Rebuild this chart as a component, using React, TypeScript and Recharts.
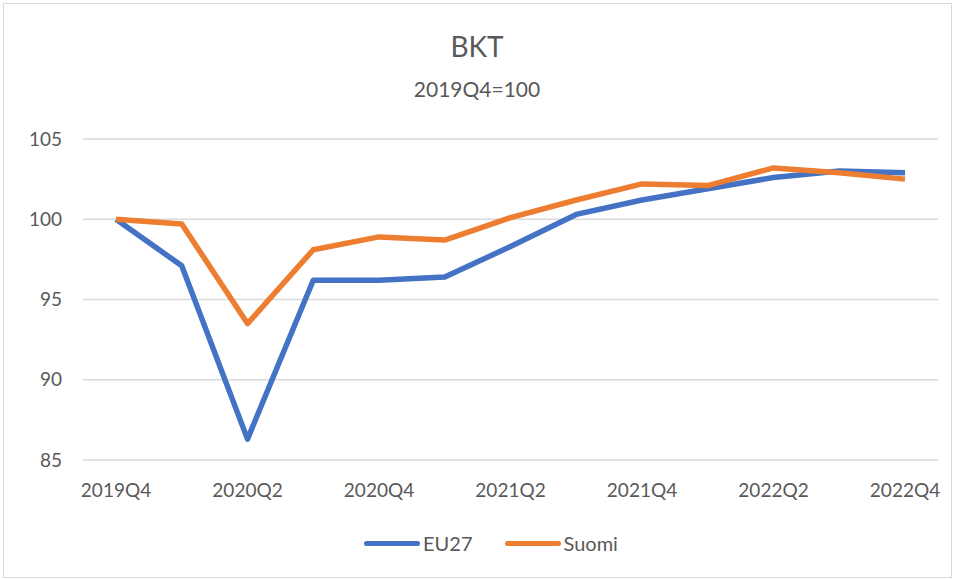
import React from 'react';
import { LineChart, Line, XAxis, YAxis, CartesianGrid } from 'recharts';

const quarters = ['2019Q4', '2020Q1', '2020Q2', '2020Q3', '2020Q4', '2021Q1', '2021Q2', '2021Q3', '2021Q4', '2022Q1', '2022Q2', '2022Q3', '2022Q4'];
const eu27 = [100, 97.1, 86.3, 96.2, 96.2, 96.4, 98.3, 100.3, 101.2, 101.9, 102.6, 103.0, 102.9];
const suomi = [100, 99.7, 93.5, 98.1, 98.9, 98.7, 100.1, 101.2, 102.2, 102.1, 103.2, 102.9, 102.5];
const yTicks = [85, 90, 95, 100, 105];

const series = [
  { key: 'EU27', color: '#4472C4' },
  { key: 'Suomi', color: '#ED7D31' },
];

const data = quarters.map((q, i) => ({ q, EU27: eu27[i], Suomi: suomi[i] }));

const FONT = 'Lato, "Open Sans", sans-serif';
const TEXT = '#595959';

const App: React.FC = () => {
  return (
    <div style={{ position: 'absolute', left: 0, top: 0, width: 954, height: 579, background: '#fff' }}>
      <div style={{ position: 'absolute', left: 3, top: 3, width: 947, height: 573, border: '1px solid #d9d9d9' }} />
      <div style={{ position: 'absolute', left: 0, top: 29, width: 954, textAlign: 'center', fontFamily: FONT, fontSize: 28, color: TEXT }}>
        BKT
      </div>
      <div style={{ position: 'absolute', left: 0, top: 76, width: 954, textAlign: 'center', fontFamily: FONT, fontSize: 21, color: TEXT }}>
        2019Q4=100
      </div>
      <LineChart
        width={954}
        height={579}
        data={data}
        margin={{ top: 139, right: 16, bottom: 89, left: 23 }}
        style={{ position: 'absolute', left: 0, top: 0 }}
      >
        <CartesianGrid vertical={false} stroke="#d9d9d9" strokeWidth={1.5} />
        <XAxis
          dataKey="q"
          height={30}
          interval={1}
          axisLine={false}
          tickLine={false}
          tickSize={0}
          tickMargin={24}
          padding={{ left: 33, right: 33 }}
          tick={{ fill: TEXT, fontSize: 19, fontFamily: FONT }}
        />
        <YAxis
          width={60}
          domain={[85, 105]}
          ticks={yTicks}
          axisLine={false}
          tickLine={false}
          tickSize={0}
          tickMargin={21}
          tick={{ fill: TEXT, fontSize: 19, fontFamily: FONT }}
        />
        {series.map((s) => (
          <Line key={s.key} type="linear" dataKey={s.key} stroke={s.color} strokeWidth={5.5} dot={false} isAnimationActive={false} strokeLinejoin="round" />
        ))}
      </LineChart>
      {/* legend, Excel style: thick swatch then label */}
      <div style={{ position: 'absolute', left: 14, top: 531, width: 954, display: 'flex', justifyContent: 'center', fontFamily: FONT, fontSize: 20, color: TEXT }}>
        {series.map((s) => (
          <div key={s.key} style={{ display: 'flex', alignItems: 'center', margin: '0 16px' }}>
            <span style={{ display: 'inline-block', width: 56, height: 5, borderRadius: 3, background: s.color, marginRight: 3 }} />
            <span>{s.key}</span>
          </div>
        ))}
      </div>
    </div>
  );
};

export default App;
